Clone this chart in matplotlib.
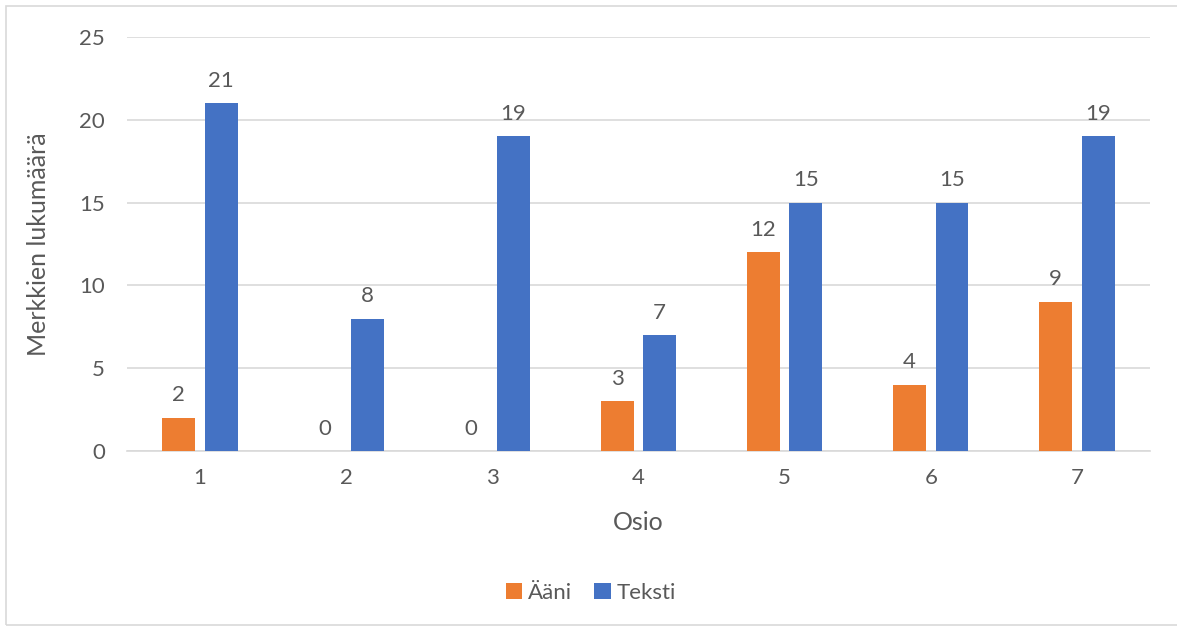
import numpy as np
import matplotlib.pyplot as plt
from matplotlib.patches import Rectangle

osiot = ['1', '2', '3', '4', '5', '6', '7']
aani = [2, 0, 0, 3, 12, 4, 9]
teksti = [21, 8, 19, 7, 15, 15, 19]

plt.rcParams['font.family'] = ['Lato', 'DejaVu Sans']
txt = '#595959'

fig = plt.figure(figsize=(11.77, 6.28), dpi=100)
ax = fig.add_axes([0.1079, 0.2818, 0.8692, 0.6592])

x = np.arange(len(osiot))
w = 0.225
off = 0.145
b1 = ax.bar(x - off, aani, w, color='#ED7D31', label='Ääni', zorder=3)
b2 = ax.bar(x + off, teksti, w, color='#4472C4', label='Teksti', zorder=3)

for bars, vals in ((b1, aani), (b2, teksti)):
    for r, v in zip(bars, vals):
        ax.annotate(str(v), (r.get_x() + r.get_width() / 2, v),
                    xytext=(0, 9), textcoords='offset points',
                    ha='center', va='bottom', fontsize=16, color=txt)

ax.set_xlim(-0.5, 6.5)
ax.set_ylim(0, 25)
ax.set_yticks(range(0, 26, 5))
ax.set_xticks(x)
ax.set_xticklabels(osiot)
ax.yaxis.grid(True, color='#D9D9D9', linewidth=1.2, zorder=0)
for s in ['top', 'right', 'left']:
    ax.spines[s].set_visible(False)
ax.spines['bottom'].set_color('#D9D9D9')
ax.spines['bottom'].set_linewidth(1.2)
ax.tick_params(axis='both', length=0, labelsize=16, labelcolor=txt)
ax.tick_params(axis='y', pad=16)
ax.tick_params(axis='x', pad=12)
ax.set_xlabel('Osio', fontsize=18, color=txt)
ax.set_ylabel('Merkkien lukumäärä', fontsize=18, color=txt)
ax.xaxis.set_label_coords(0.5, -0.146)
ax.yaxis.set_label_coords(-0.075, 0.5)

fig.legend(loc='center', bbox_to_anchor=(0.502, 1 - 593 / 628), ncol=2,
           frameon=False, fontsize=16, labelcolor=txt, handlelength=0.75,
           handleheight=0.75, handletextpad=0.25, columnspacing=1.0)

fig.patches.append(Rectangle((6 / 1177, 0.005), 1.2, 1 - 6 / 628 - 0.005,
                             transform=fig.transFigure, fill=False,
                             edgecolor='#D9D9D9', linewidth=1.2))

fig.savefig('out.png', dpi=100)
